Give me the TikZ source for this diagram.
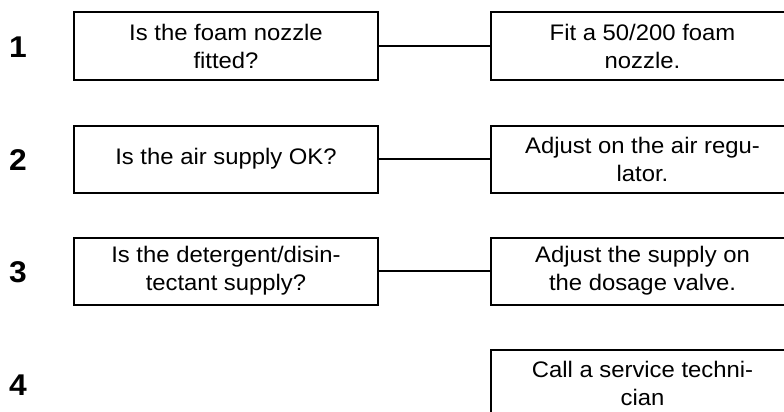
\documentclass[tikz,border=0pt]{standalone}
\usepackage{fontspec}
\setmainfont{Liberation Sans}
\newfontfamily\boxfont[FakeStretch=1.06]{Liberation Sans}
\begin{document}
\begin{tikzpicture}[x=1pt,y=-1pt,
  stepbox/.style={draw=black,line width=2pt,minimum width=304pt,minimum height=67pt,
    inner sep=0pt,align=center,font=\boxfont\fontsize{22.5}{28}\selectfont},
  rownum/.style={font=\boxfont\fontsize{30}{30}\selectfont\bfseries,inner sep=0pt},
  link/.style={line width=2pt}]
\useasboundingbox (0,0) rectangle (784,412);
\clip (0,0) rectangle (784,412);

% row numbers
\node[rownum] (n1) at (18,47.5) {1};
\node[rownum] (n2) at (18,160.5) {2};
\node[rownum] (n3) at (18,272.5) {3};
\node[rownum] (n4) at (18,385.5) {4};

% questions
\node[stepbox] (q1) at (226,46) {Is the foam nozzle\\fitted?};
\node[stepbox] (q2) at (226,159) {Is the air supply OK?};
\node[stepbox] (q3) at (226,271) {Is the detergent/disin-\\tectant supply?};

% remedies
\node[stepbox] (a1) at (642.5,46) {Fit a 50/200 foam\\nozzle.};
\node[stepbox] (a2) at (642.5,159) {Adjust on the air regu-\\lator.};
\node[stepbox] (a3) at (642.5,271) {Adjust the supply on\\the dosage valve.};
\node[stepbox] (a4) at (642.5,383.5) {Call a service techni-\\cian};

% connectors
\draw[link] (q1.east) -- (a1.west);
\draw[link] (q2.east) -- (a2.west);
\draw[link] (q3.east) -- (a3.west);
\end{tikzpicture}
\end{document}
